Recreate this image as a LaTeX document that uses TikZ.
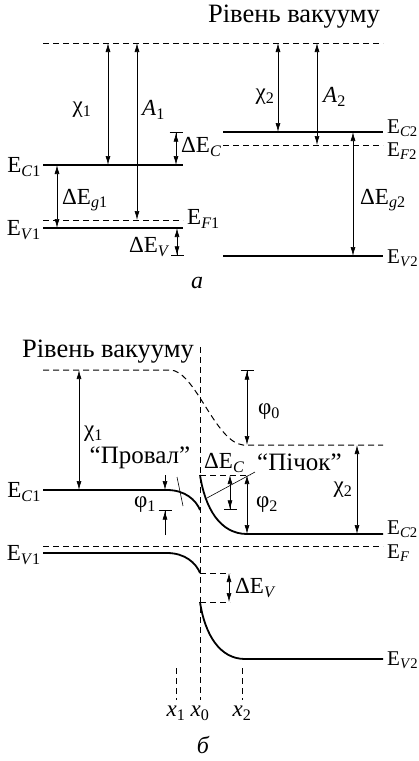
\documentclass[tikz,border=0pt]{standalone}
\usepackage{fontspec}
\setmainfont{Liberation Serif}
\usetikzlibrary{arrows.meta,positioning,calc}
\newcommand{\elev}[2]{E\textsubscript{\textit{#1}#2}}

\begin{document}
\begin{tikzpicture}[x=1pt,y=-1pt,
    level/.style={line width=1.8pt},
    dlevel/.style={line width=1pt, dash pattern=on 6pt off 4pt},
    gap/.style={line width=0.7pt, {Latex[length=9pt,width=5pt]}-{Latex[length=9pt,width=5pt]}},
    gaptop/.style={line width=0.7pt, {Bar[width=13pt]Latex[length=9pt,width=5pt]}-{Latex[length=9pt,width=5pt]}},
    gapbot/.style={line width=0.7pt, {Latex[length=9pt,width=5pt]}-{Latex[length=9pt,width=5pt]Bar[width=13pt]}},
    inarrow/.style={line width=0.7pt, -{Latex[length=9pt,width=5pt]}},
    inbar/.style={line width=0.7pt, -{Latex[length=9pt,width=5pt]Bar[width=13pt]}},
    leader/.style={line width=0.6pt},
    lbl/.style={font=\fontsize{23}{25}\selectfont, inner sep=0pt},
    edge/.style={font=\fontsize{21}{23}\selectfont, inner sep=0pt, anchor=west},
    word/.style={font=\fontsize{25}{27}\selectfont, inner sep=0pt},
    title/.style={font=\fontsize{26.5}{28}\selectfont, inner sep=0pt}
]
\useasboundingbox (0,0) rectangle (419,761);

% ---- a: separate semiconductors ----
\node[title] (vacAtxt) at (294,17) {Рівень вакууму};
\coordinate (vacl) at (43,43);  \coordinate (vacr) at (383,43);
\coordinate (C1l) at (43,165);  \coordinate (C1r) at (183,165);
\coordinate (F1l) at (43,220);  \coordinate (F1r) at (183,220);
\coordinate (V1l) at (43,228);  \coordinate (V1r) at (183,228);
\coordinate (C2l) at (223,132); \coordinate (C2r) at (383,132);
\coordinate (F2l) at (223,145); \coordinate (F2r) at (383,145);
\coordinate (V2l) at (223,256); \coordinate (V2r) at (383,256);

\draw[dlevel] (vacl) -- (vacr);
\draw[level] (C1l) -- (C1r);
\draw[dlevel] (F1l) -- (F1r);
\draw[level] (V1l) -- (V1r);
\draw[level] (C2l) -- (C2r);
\draw[dlevel] (F2l) -- (F2r);
\draw[level] (V2l) -- (V2r);

\coordinate (xchi1) at (108,0); \coordinate (xA1) at (137,0);
\coordinate (xg1) at (57,0);    \coordinate (xdC) at (176,0);
\coordinate (xdV) at (177,0);   \coordinate (xchi2) at (278,0);
\coordinate (xA2) at (317,0);   \coordinate (xg2) at (353,0);

\draw[gap] (vacl -| xchi1) -- (C1l -| xchi1);
\draw[gap] (vacl -| xA1) -- (F1l -| xA1);
\draw[gap] (C1l -| xg1) -- (V1l -| xg1);
\draw[gaptop] (C2l -| xdC) -- (C1l -| xdC);
\draw[gapbot] (V1l -| xdV) -- (V2l -| xdV);
\draw[gap] (vacl -| xchi2) -- (C2l -| xchi2);
\draw[gap] (vacl -| xA2) -- (F2l -| xA2);
\draw[gap] (C2l -| xg2) -- (V2l -| xg2);

\node[lbl] (chi1) at (82,110) {χ\textsubscript{1}};
\node[lbl,anchor=west] (A1) at (142,110) {\textit{A}\textsubscript{1}};
\node[lbl,anchor=west] (dEg1) at (62,200) {Δ\elev{g}{1}};
\node[lbl,anchor=west] (dEC) at (181,147) {Δ\elev{C}{}};
\node[lbl,anchor=east] (dEV) at (170,247) {Δ\elev{V}{}};
\node[lbl,anchor=east] (C1lab) at (41,167) {\elev{C}{1}};
\node[lbl,anchor=east] (V1lab) at (41,230) {\elev{V}{1}};
\node[lbl,anchor=west] (F1lab) at (187,219) {\elev{F}{1}};
\node[lbl] (chi2) at (265,97) {χ\textsubscript{2}};
\node[lbl,anchor=west] (A2) at (323,97) {\textit{A}\textsubscript{2}};
\node[edge] (C2lab) at (387,128) {\elev{C}{2}};
\node[edge] (F2lab) at (387,151) {\elev{F}{2}};
\node[edge] (V2lab) at (387,258) {\elev{V}{2}};
\node[lbl,anchor=west] (dEg2) at (360,200) {Δ\elev{g}{2}};
\node[lbl,font=\fontsize{24}{26}\selectfont\itshape] (capA) at (197,283) {а};

% ---- b: heterojunction ----
\node[title] (vacBtxt) at (108,352) {Рівень вакууму};
\coordinate (bvacl) at (43,370);  \coordinate (bvacm) at (170,370);
\coordinate (bvacj) at (243,445); \coordinate (bvacr) at (383,445);
\draw[dlevel] (bvacl) -- (bvacm) .. controls (195,370) and (215,442) .. (bvacj) -- (bvacr);

\coordinate (x0t) at (200,347); \coordinate (x0b) at (200,700);
\coordinate (x1t) at (176,668); \coordinate (x1b) at (176,700);
\coordinate (x2t) at (242,668); \coordinate (x2b) at (242,700);
\draw[dlevel] (x0t) -- (x0b);
\draw[dlevel] (x1t) -- (x1b);
\draw[dlevel] (x2t) -- (x2b);

\coordinate (bC1l) at (43,490);  \coordinate (bC1k) at (167,490); \coordinate (bC1j) at (200,510);
\coordinate (bV1l) at (43,553);  \coordinate (bV1k) at (167,553); \coordinate (bV1j) at (200,573);
\coordinate (bFl) at (43,546);   \coordinate (bFr) at (383,546);
\coordinate (bC2j) at (200,475); \coordinate (bC2k) at (247,534); \coordinate (bC2r) at (383,534);
\coordinate (bV2j) at (200,602); \coordinate (bV2k) at (245,659); \coordinate (bV2r) at (383,659);

\draw[level] (bC1l) -- (bC1k) .. controls (185,490) and (196,500) .. (bC1j);
\draw[level] (bV1l) -- (bV1k) .. controls (185,553) and (196,563) .. (bV1j);
\draw[dlevel] (bFl) -- (bFr);
\draw[level] (bC2j) .. controls (205,508) and (220,534) .. (bC2k) -- (bC2r);
\draw[level] (bV2j) .. controls (205,635) and (220,659) .. (bV2k) -- (bV2r);
\draw[dlevel] (bC2j) -- ++(50,0) coordinate (bC2e);
\draw[dlevel] (bV1j) -- ++(30,0) coordinate (bV1e);
\draw[dlevel] (bV2j) -- ++(30,0) coordinate (bV2e);

\coordinate (xchib) at (79,0);  \coordinate (xphi1) at (165,0);
\coordinate (xphi0) at (247,0); \coordinate (xdCb) at (230,0);
\coordinate (xphi2) at (247,0); \coordinate (xchi2b) at (357,0);
\coordinate (xdVb) at (229,0);
\coordinate (phi1a) at (165,475); \coordinate (phi1b) at (165,535);

\draw[gap] (bvacl -| xchib) -- (bC1l -| xchib);
\draw[inarrow] (phi1a) -- (bC1l -| xphi1);
\draw[inbar] (phi1b) -- (bC1j -| xphi1);
\draw[gaptop] (bvacl -| xphi0) -- (bvacr -| xphi0);
\draw[gapbot] (bC2j -| xdCb) -- (bC1j -| xdCb);
\draw[gap] (bC2j -| xphi2) -- (bC2r -| xphi2);
\draw[gap] (bvacr -| xchi2b) -- (bC2r -| xchi2b);
\draw[gap] (bV1j -| xdVb) -- (bV2j -| xdVb);

\node[lbl,anchor=west] (chi1b) at (84,434) {χ\textsubscript{1}};
\node[word] (proval) at (140,458) {“Провал”};
\coordinate (provA) at (177,477); \coordinate (provB) at (183,506);
\draw[leader] (provA) -- (provB);
\node[lbl] (phi1lab) at (145,505) {φ\textsubscript{1}};
\node[lbl,anchor=east] (bC1lab) at (41,492) {\elev{C}{1}};
\node[lbl,anchor=east] (bV1lab) at (41,555) {\elev{V}{1}};
\node[lbl,anchor=west] (phi0lab) at (258,412) {φ\textsubscript{0}};
\node[lbl,anchor=west] (dECb) at (204,463) {Δ\elev{C}{}};
\node[word,anchor=west] (pichok) at (257,462) {“Пічок”};
\coordinate (pichA) at (255,472); \coordinate (pichB) at (207,498);
\draw[leader] (pichA) -- (pichB);
\node[lbl,anchor=west] (phi2lab) at (256,505) {φ\textsubscript{2}};
\node[lbl] (chi2blab) at (343,490) {χ\textsubscript{2}};
\node[edge] (bC2lab) at (387,529) {\elev{C}{2}};
\node[edge] (bFlab) at (387,553) {\elev{F}{}};
\node[edge] (bV2lab) at (387,660) {\elev{V}{2}};
\node[lbl,anchor=west] (dEVb) at (235,588) {Δ\elev{V}{}};
\node[lbl] (x1lab) at (176,713) {\textit{x}\textsubscript{1}};
\node[lbl] (x0lab) at (200,713) {\textit{x}\textsubscript{0}};
\node[lbl] (x2lab) at (242,713) {\textit{x}\textsubscript{2}};
\node[lbl,font=\fontsize{24}{26}\selectfont\itshape] (capB) at (203,745) {б};
\end{tikzpicture}
\end{document}
